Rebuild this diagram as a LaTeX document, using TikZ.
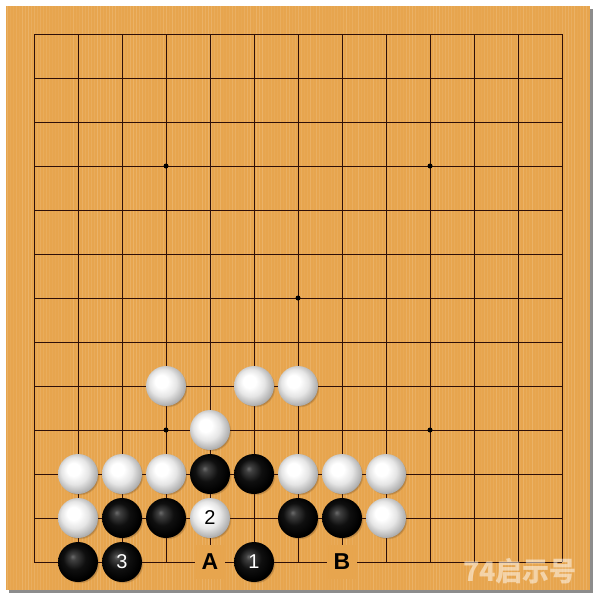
\documentclass[tikz,border=0pt]{standalone}
\usepackage{fontspec}
\setmainfont{Liberation Sans}
\newfontfamily\cjk{Noto Sans CJK SC}
\usetikzlibrary{shadows}
\definecolor{boardc}{HTML}{E7A54E}
\definecolor{gridc}{HTML}{2E0F08}
\pgfdeclareradialshading{wstoneshade}{\pgfpoint{-7bp}{7bp}}{color(0bp)=(white); color(8bp)=(white); color(17bp)=(black!10); color(25bp)=(black!28); color(32bp)=(black!45); color(40bp)=(black!50)}
\pgfdeclareradialshading{bstoneshade}{\pgfpoint{-7bp}{7bp}}{color(0bp)=(black!58); color(4bp)=(black!75); color(14bp)=(black!94); color(25bp)=(black); color(40bp)=(black)}
\tikzset{
  gridline/.style={draw=gridc, line width=1pt},
  grain/.style={draw=white, line width=0.8pt},
  stone/.style={circle, minimum size=40pt, inner sep=0pt, font=\fontsize{20}{20}\selectfont,
    circular drop shadow={shadow xshift=1.5pt, shadow yshift=-1.5pt, opacity=0.4, fill=black!60!brown, shadow scale=1.0}},
  wstone/.style={stone, shading=wstoneshade, text=black},
  bstone/.style={stone, shading=bstoneshade, text=white},
  pointlabel/.style={fill=boardc, minimum width=30pt, minimum height=34pt, inner sep=0pt, font=\fontsize{23}{23}\selectfont\bfseries},
  starpt/.style={circle, fill=black, minimum size=5pt, inner sep=0pt}
}
\begin{document}
\begin{tikzpicture}[x=1pt,y=-1pt]
\useasboundingbox (0,0) rectangle (600,600);
\fill[white] (0,0) rectangle (600,600);
\fill[black!45] (9,9) rectangle (593,593);
\fill[boardc] (6,6) rectangle (590,590);
\pgfmathsetseed{7}
\foreach \k in {0,...,193} {
  \pgfmathsetmacro{\op}{0.03+0.12*rnd}
  \draw[grain, opacity=\op] (7.5+3*\k,6) -- (7.5+3*\k,590);
}
\foreach \i in {0,...,12} {
  \draw[gridline] (34+44*\i,34) -- (34+44*\i,562);
  \draw[gridline] (34,34+44*\i) -- (562,34+44*\i);
}
\node[starpt] (s1) at (166,166) {};
\node[starpt] (s2) at (430,166) {};
\node[starpt] (s3) at (298,298) {};
\node[starpt] (s4) at (166,430) {};
\node[starpt] (s5) at (430,430) {};
% row 8
\node[wstone] (w1) at (166,386) {};
\node[wstone] (w2) at (254,386) {};
\node[wstone] (w3) at (298,386) {};
% row 9
\node[wstone] (w4) at (210,430) {};
% row 10
\node[wstone] (w5) at (78,474) {};
\node[wstone] (w6) at (122,474) {};
\node[wstone] (w7) at (166,474) {};
\node[bstone] (b1) at (210,474) {};
\node[bstone] (b2) at (254,474) {};
\node[wstone] (w8) at (298,474) {};
\node[wstone] (w9) at (342,474) {};
\node[wstone] (w10) at (386,474) {};
% row 11
\node[wstone] (w11) at (78,518) {};
\node[bstone] (b3) at (122,518) {};
\node[bstone] (b4) at (166,518) {};
\node[wstone] (w12) at (210,518) {2};
\node[bstone] (b5) at (298,518) {};
\node[bstone] (b6) at (342,518) {};
\node[wstone] (w13) at (386,518) {};
% row 12
\node[bstone] (b7) at (78,562) {};
\node[bstone] (b8) at (122,562) {3};
\node[pointlabel] (mA) at (210,562) {A};
\node[bstone] (b9) at (254,562) {1};
\node[pointlabel] (mB) at (342,562) {B};
% watermark
\node[text=white, opacity=0.5, font=\cjk\bfseries\fontsize{27}{27}\selectfont, inner sep=0pt] (wm) at (520,571) {74启示号};
\end{tikzpicture}
\end{document}
